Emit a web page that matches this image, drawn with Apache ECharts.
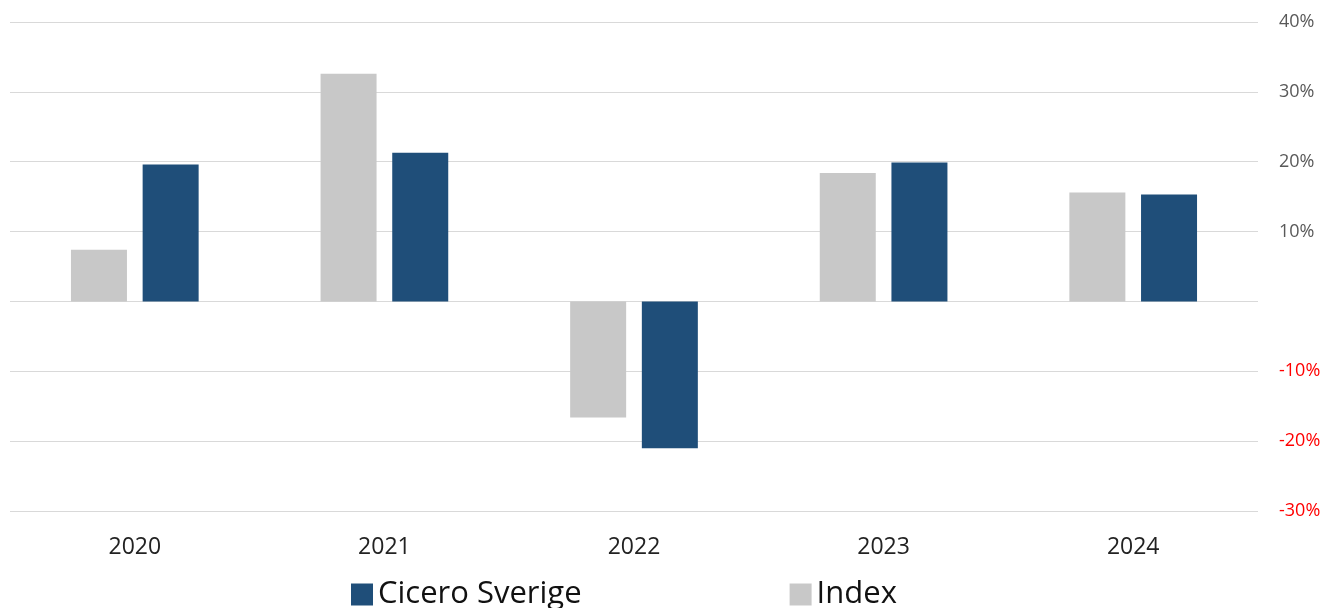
<!DOCTYPE html>
<html lang="sv">
<head>
    <meta charset="UTF-8">
    <title>Cicero Sverige vs Index</title>
    <script src="https://cdn.jsdelivr.net/npm/echarts@6/dist/echarts.min.js"></script>
    <style>
        html, body { margin: 0; padding: 0; background: #fff; }
        #main { width: 1325px; height: 608px; }
    </style>
</head>
<body>
    <div id="main"></div>
    <script>
        var years = ['2020', '2021', '2022', '2023', '2024'];
        var ciceroValues = [19.6, 21.3, -21.0, 19.9, 15.3];
        var indexValues = [7.4, 32.6, -16.6, 18.4, 15.6];
        var yTicks = [-30, -20, -10, 0, 10, 20, 30, 40];

        var myChart = echarts.init(document.getElementById('main'));

        var option = {
            backgroundColor: '#ffffff',
            animation: false,
            grid: {
                left: 10,
                right: 67,
                top: 22,
                bottom: 97
            },
            legend: {
                data: ['Cicero Sverige', 'Index'],
                left: 346,
                top: 574,
                itemWidth: 22,
                itemHeight: 22,
                itemGap: 208,
                icon: 'rect',
                textStyle: {
                    fontFamily: 'Open Sans',
                    fontSize: 31,
                    color: '#111'
                }
            },
            xAxis: {
                type: 'category',
                data: years,
                axisLine: { show: false },
                axisTick: { show: false },
                axisLabel: {
                    margin: 25,
                    fontFamily: 'Open Sans',
                    fontSize: 23,
                    color: '#222'
                }
            },
            yAxis: {
                type: 'value',
                position: 'right',
                min: yTicks[0],
                max: yTicks[yTicks.length - 1],
                interval: 10,
                axisLine: { show: false },
                axisTick: { show: false },
                splitLine: {
                    lineStyle: { color: '#d9d9d9', width: 1 }
                },
                axisLabel: {
                    margin: 21,
                    fontFamily: 'Open Sans',
                    fontSize: 18,
                    formatter: function (v) {
                        return v === 0 ? '' : v + '%';
                    },
                    color: function (v) {
                        return Number(v) < 0 ? '#ff0000' : '#595959';
                    }
                }
            },
            series: [{
                name: 'Index',
                type: 'bar',
                data: indexValues,
                barWidth: 56,
                barGap: '28%',
                itemStyle: { color: '#c8c8c8' }
            }, {
                name: 'Cicero Sverige',
                type: 'bar',
                data: ciceroValues,
                barWidth: 56,
                barGap: '28%',
                itemStyle: { color: '#1f4e79' }
            }]
        };
        myChart.setOption(option);
    </script>
</body>
</html>
